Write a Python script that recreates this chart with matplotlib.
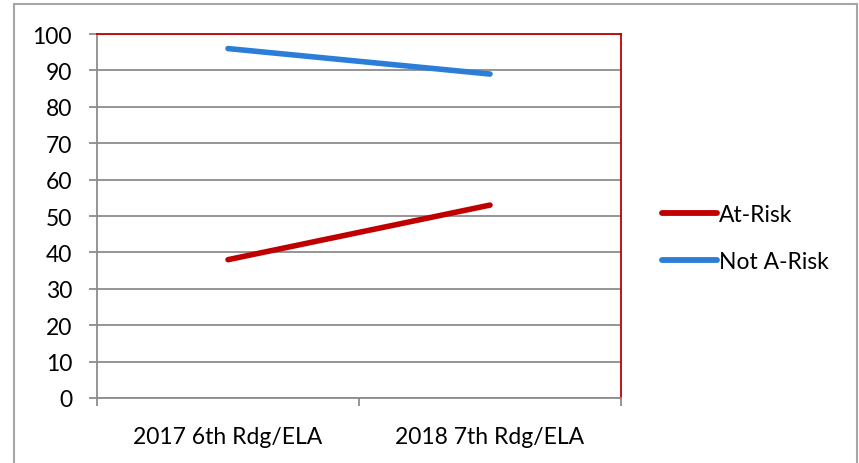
import matplotlib
matplotlib.use("Agg")
import matplotlib.pyplot as plt
from matplotlib.patches import Rectangle

categories = ["2017 6th Rdg/ELA", "2018 7th Rdg/ELA"]
at_risk = [38, 53]
not_at_risk = [96, 89]
series_names = ["At-Risk", "Not A-Risk"]
y_ticks = [0, 10, 20, 30, 40, 50, 60, 70, 80, 90, 100]

plt.rcParams["font.family"] = ["Lato", "DejaVu Sans"]
FS = 16.5

fig = plt.figure(figsize=(8.59, 4.64), dpi=100)
fig.patch.set_facecolor("white")

# outer chart frame
fig.patches.append(Rectangle((14 / 859, -0.05), (857 - 14) / 859, 1 - 5 / 464 + 0.05,
                             transform=fig.transFigure, fill=False,
                             edgecolor="#A6A6A6", linewidth=1.5, zorder=0))

ax = fig.add_axes([97 / 859, 1 - 399 / 464, (621 - 97) / 859, (399 - 35) / 464])

x = list(range(len(categories)))
red = "#C00000"
blue = "#2B7DD8"
ax.plot(x, at_risk, color=red, linewidth=4.0, solid_capstyle="round", label=series_names[0], zorder=3)
ax.plot(x, not_at_risk, color=blue, linewidth=4.0, solid_capstyle="round", label=series_names[1], zorder=3)

ax.set_xlim(-0.5, len(categories) - 0.5)
ax.set_ylim(0, 100)
ax.set_yticks(y_ticks)
ax.set_yticklabels([str(v) for v in y_ticks], fontsize=FS)
ax.yaxis.grid(True, color="#8C8C8C", linewidth=1.3)
ax.set_axisbelow(True)

ax.set_xticks([i - 0.5 for i in range(len(categories) + 1)])
ax.set_xticklabels([])
ax.set_xticks(x, minor=True)
ax.set_xticklabels(categories, minor=True, fontsize=FS)
ax.tick_params(axis="x", which="major", length=6, color="#8C8C8C", width=1.3)
ax.tick_params(axis="x", which="minor", length=0, pad=20)
ax.tick_params(axis="y", length=6, color="#8C8C8C", width=1.3, pad=12)

for side in ["top", "right"]:
    ax.spines[side].set_color(red)
    ax.spines[side].set_linewidth(1.3)
ax.spines["left"].set_color("#8C8C8C")
ax.spines["left"].set_linewidth(1.3)
ax.spines["bottom"].set_color("#8C8C8C")
ax.spines["bottom"].set_linewidth(1.3)

leg = fig.legend(loc="center left", bbox_to_anchor=(641 / 859, 1 - 239 / 464),
                 frameon=False, fontsize=FS, handlelength=2.4, handletextpad=0.1,
                 labelspacing=1.1)
for line in leg.get_lines():
    line.set_solid_capstyle("round")
    line.set_linewidth(4.2)

fig.savefig("out.png", dpi=100, facecolor="white")
